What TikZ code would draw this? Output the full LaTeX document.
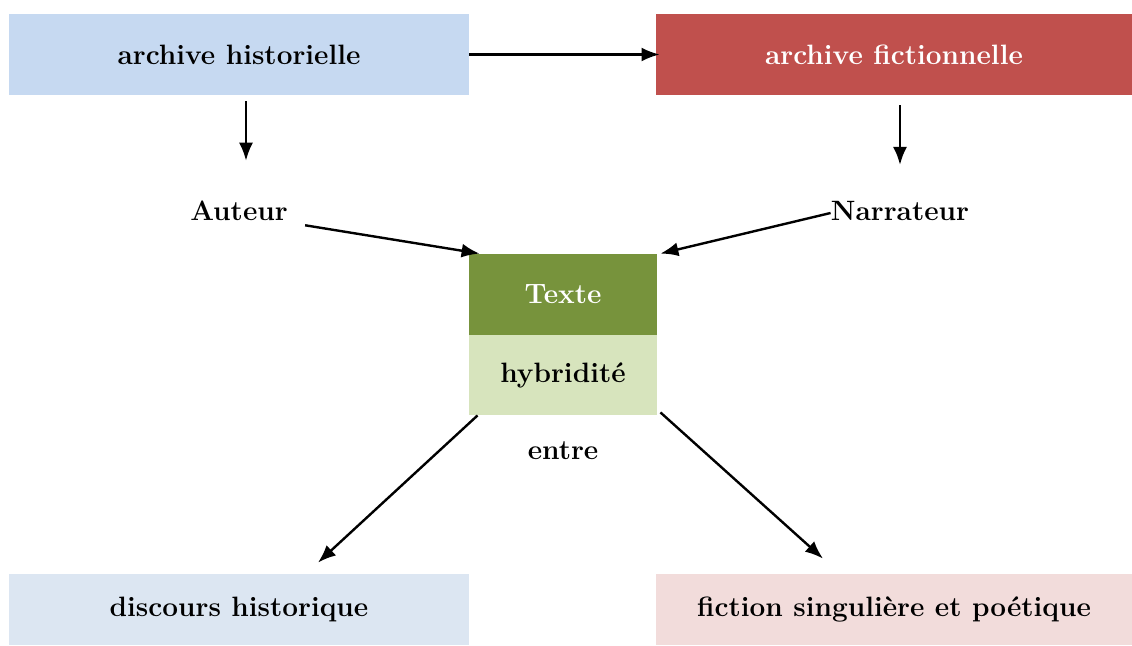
\documentclass[tikz,border=0pt]{standalone}
\usepackage[dvipsnames]{xcolor}
\usepackage{tikz}
\usetikzlibrary{arrows.meta}
\definecolor{bleuHist}{HTML}{C6D9F1}
\definecolor{rougeFict}{HTML}{C0504D}
\definecolor{vertTexte}{HTML}{77933C}
\definecolor{vertHybr}{HTML}{D7E4BD}
\definecolor{bleuDisc}{HTML}{DCE6F2}
\definecolor{roseFict}{HTML}{F2DCDB}
\tikzstyle{boite}=      [inner sep=0pt, font=\fontsize{14}{17}\selectfont\bfseries]
\tikzstyle{large}=      [boite, minimum width=230pt, minimum height=40.5pt]
\tikzstyle{fleche}=     [line width=1.2pt, -{Latex[length=9pt,width=7pt]}]

\begin{document}
\begin{tikzpicture}[x=0.5pt,y=-0.5pt]
 \useasboundingbox (0,0) rectangle (1132,646);

 % archives
 \node[large, fill=bleuHist] (archH) at (239,54.5) {archive historielle};
 \node[large, fill=rougeFict, text=white, minimum width=238pt] (archF) at (894,54.5) {archive fictionnelle};

 % instances
 \node[boite] (auteur) at (239,211) {Auteur};
 \node[boite] (narr) at (900,211) {Narrateur};

 % texte
 \node[boite, fill=vertTexte, text=white, minimum width=94pt, minimum height=40.5pt] (texte) at (563,294.5) {Texte};
 \node[boite, fill=vertHybr, minimum width=94pt, minimum height=40pt] (hybr) at (563,375) {hybridit\'e};
 \node[boite] (entre) at (563,451) {entre};

 % discours
 \node[large, fill=bleuDisc, minimum height=35.5pt] (disc) at (239,609.5) {discours historique};
 \node[large, fill=roseFict, minimum width=238pt, minimum height=35.5pt] (fict) at (894,609.5) {fiction singuli\`ere et po\'etique};

 \draw[fleche] (archH.east) -- ([xshift=2pt]archF.west);
 \draw[fleche, shorten <=3pt, shorten >=20pt] ([xshift=3.5pt]archH.south) -- ([xshift=3.5pt]auteur.north);
 \draw[fleche, shorten <=5pt, shorten >=18pt] (archF.south -| narr.north) -- (narr.north);
 \draw[fleche] ([xshift=8.5pt,yshift=-2pt]auteur.south east) -- ([xshift=5.5pt]texte.north west);
 \draw[fleche] ([yshift=-1pt]narr.west) -- ([xshift=1.5pt]texte.north east);
 \draw[fleche] ([xshift=4.5pt]hybr.south west) -- ([xshift=39.5pt,yshift=5.5pt]disc.north);
 \draw[fleche] ([xshift=1.5pt,yshift=1.5pt]hybr.south east) -- ([xshift=-35.5pt,yshift=7.5pt]fict.north);
\end{tikzpicture}
\end{document}
